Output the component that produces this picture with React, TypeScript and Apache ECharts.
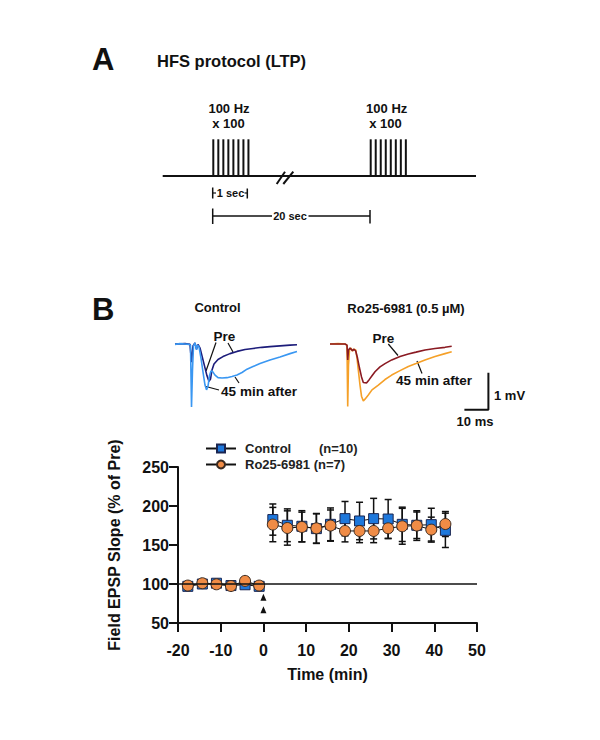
import React, { useEffect, useRef } from "react";
import * as echarts from "echarts";

// ---------- Data ----------
const preTimes = [-17.7, -14.3, -11.0, -7.6, -4.3, -1.0];
const postTimes = [2.2, 5.6, 9.0, 12.4, 15.7, 19.1, 22.5, 25.8, 29.2, 32.5, 35.9, 39.3, 42.6];

const controlPre = [97, 100, 101, 98, 99, 97];
const controlPreErr = [2, 2, 3, 2, 2, 2];
const controlPost = [182.6, 175.3, 174, 171, 176.5, 183.8, 180.8, 183.8, 183.3, 176.5, 175.3, 176.1, 168.8];
const controlPostErr = [20, 21, 20, 19, 21, 22, 24, 26, 25, 22, 17, 21, 22];

const roPre = [98, 101, 99.6, 97.4, 104, 98];
const roPreErr = [2, 2, 2, 2, 3, 2];
const roPost = [176.2, 171.8, 173.1, 171.4, 174.9, 168, 168, 168, 171.4, 174, 174.9, 169.7, 176.9];
const roPostErr = [22, 22, 19, 19, 20, 14, 15, 15, 13, 23, 19, 16, 16];

const hfsArrows = [83, 67];

const xTicks = { min: -20, max: 50, interval: 10 };
const yTicks = { min: 50, max: 250, interval: 50 };

// Field potential traces [ms, mV]
const controlPreTrace = [
  [0, 0], [4.17, 0.01], [6.25, -0.01], [6.88, -0.49], [7.5, -0.05], [8.33, 0.03], [8.96, -0.14],
  [9.58, -0.01], [10.42, -0.11], [11.25, -0.32], [12.29, -0.59], [13.33, -0.86], [14.17, -1.01],
  [14.79, -0.95], [15.42, -0.7], [16.25, -0.54], [17.92, -0.42], [20, -0.34], [22.92, -0.26],
  [25.83, -0.2], [29.17, -0.15], [32.5, -0.12], [36.25, -0.09], [39.58, -0.07], [43.75, -0.05],
  [47.92, -0.03], [50.83, -0.02],
];
const controlAfterTrace = [
  [0, -0.01], [2.08, 0.01], [4.17, 0], [5.83, -0.01], [6.46, -0.03], [6.88, -1.7], [7.29, -0.7],
  [7.71, -0.05], [8.33, 0.03], [8.96, -0.16], [9.38, -0.03], [10, -0.08], [10.83, -0.38],
  [11.67, -0.76], [12.5, -1.11], [13.13, -1.24], [13.75, -1.14], [14.38, -0.86], [15, -0.73],
  [15.63, -0.74], [16.67, -0.84], [17.92, -0.91], [19.58, -0.92], [21.67, -0.91], [23.75, -0.88],
  [25.83, -0.84], [27.92, -0.77], [30, -0.68], [32.5, -0.61], [35.42, -0.53], [39.58, -0.43],
  [43.75, -0.35], [47.92, -0.26], [50.83, -0.2],
];
const roPreTrace = [
  [0, 0], [6.25, 0], [7.08, -0.03], [7.38, -0.43], [7.71, -0.16], [8.33, -0.11], [9.38, -0.18],
  [10, -0.14], [10.71, -0.19], [11.46, -0.38], [12.29, -0.65], [13.13, -0.89], [13.88, -1.04],
  [15.29, -1.05], [16.25, -0.97], [17.5, -0.86], [18.75, -0.75], [20.83, -0.62], [22.92, -0.53],
  [25.71, -0.43], [29.17, -0.34], [32.63, -0.27], [35.83, -0.22], [39.58, -0.16], [43.75, -0.12],
  [47.92, -0.09], [50.71, -0.06],
];
const roAfterTrace = [
  [0, 0], [3.33, 0.01], [6.25, 0], [7.08, -0.03], [7.38, -1.69], [7.71, -0.57], [8.13, -0.16],
  [8.75, -0.11], [9.38, -0.19], [10, -0.14], [10.71, -0.16], [11.25, -0.38], [11.79, -0.7],
  [12.5, -1.11], [13.13, -1.41], [13.88, -1.54], [14.58, -1.49], [15.96, -1.38], [17.5, -1.24],
  [20.13, -1.11], [22.92, -0.96], [25.71, -0.84], [29.17, -0.72], [32.63, -0.61], [35.83, -0.53],
  [39.58, -0.43], [43.75, -0.34], [47.92, -0.26], [50.71, -0.21],
];
const scaleBar = [[56, -1.78], [66, -1.78], [66, -0.78]];

const pulsesPerBurst = 8;

const FONT = "'Liberation Sans', Arial, Helvetica, sans-serif";

function txt(x: number, y: number, text: string, size: number, align = "center", weight = "bold") {
  return {
    type: "text",
    x,
    y,
    silent: true,
    style: {
      text,
      fontFamily: FONT,
      fontSize: size,
      fontWeight: weight,
      fill: "#111",
      align,
      verticalAlign: "middle",
    },
  };
}
function ln(x1: number, y1: number, x2: number, y2: number, w = 1.5) {
  return {
    type: "line",
    silent: true,
    shape: { x1, y1, x2, y2 },
    style: { stroke: "#111", lineWidth: w },
  };
}

export default function App() {
  const ref = useRef<HTMLDivElement>(null);
  useEffect(() => {
    if (!ref.current) return;
    const chart = echarts.init(ref.current, undefined, { renderer: "svg" });

    const zip = (xs: number[], ys: number[]) => xs.map((x, i) => [x, ys[i]]);
    const zip3 = (xs: number[], ys: number[], es: number[]) => xs.map((x, i) => [x, ys[i], es[i]]);

    const errRender = (params: any, api: any) => {
      const x = api.value(0);
      const y = api.value(1);
      const e = api.value(2);
      const top = api.coord([x, y + e]);
      const bot = api.coord([x, y - e]);
      const hw = 3.5;
      const st = { stroke: "#111", lineWidth: 1.5 };
      return {
        type: "group",
        children: [
          { type: "line", shape: { x1: top[0], y1: top[1], x2: bot[0], y2: bot[1] }, style: st },
          { type: "line", shape: { x1: top[0] - hw, y1: top[1], x2: top[0] + hw, y2: top[1] }, style: st },
          { type: "line", shape: { x1: bot[0] - hw, y1: bot[1], x2: bot[0] + hw, y2: bot[1] }, style: st },
        ],
      };
    };

    const ctlStyle = {
      symbol: "rect",
      symbolSize: 10,
      itemStyle: { color: "#1e78dc", borderColor: "#1a2550", borderWidth: 1 },
      lineStyle: { color: "#111", width: 1 },
    };
    const roStyle = {
      symbol: "circle",
      symbolSize: 11,
      itemStyle: { color: "#f08c46", borderColor: "#3a2a20", borderWidth: 1 },
      lineStyle: { color: "#111", width: 1 },
    };

    // Panel A schematic
    const graphics: any[] = [];
    graphics.push(txt(92, 59, "A", 31, "left"));
    graphics.push(txt(157, 61, "HFS protocol (LTP)", 16.5, "left"));
    graphics.push(ln(162.7, 176, 476, 176, 2));
    [213.3, 370.7].forEach((x0) => {
      for (let i = 0; i < pulsesPerBurst; i++) {
        const x = x0 + i * 5.02;
        graphics.push(ln(x, 139.3, x, 176, 2));
      }
    });
    graphics.push(txt(229, 108, "100 Hz", 13));
    graphics.push(txt(228.5, 123.3, "x 100", 13));
    graphics.push(txt(386.7, 108, "100 Hz", 13));
    graphics.push(txt(385.5, 123.3, "x 100", 13));
    graphics.push(ln(276.7, 184, 285, 171.7, 2));
    graphics.push(ln(283.3, 184, 293.3, 171.7, 2));
    // 1 sec bracket
    graphics.push(ln(212.7, 187.5, 212.7, 198.5, 1.5));
    graphics.push(ln(212.7, 193, 216, 193, 1.2));
    graphics.push(txt(230.5, 193, "1 sec", 11));
    graphics.push(ln(244.5, 193, 247.3, 193, 1.2));
    graphics.push(ln(247.3, 188.5, 247.3, 198.5, 1.5));
    // 20 sec bracket
    graphics.push(ln(212.7, 208.5, 212.7, 224, 1.5));
    graphics.push(ln(212.7, 216, 272, 216, 1.5));
    graphics.push(txt(290, 216, "20 sec", 11));
    graphics.push(ln(308.5, 216, 370, 216, 1.5));
    graphics.push(ln(370, 210, 370, 223.5, 1.5));

    // Panel B labels
    graphics.push(txt(92, 309, "B", 31, "left"));
    graphics.push(txt(217.5, 307.5, "Control", 13));
    graphics.push(txt(406, 308, "Ro25-6981 (0.5 \u00b5M)", 13));
    graphics.push(txt(224.5, 336.5, "Pre", 13.5));
    graphics.push(ln(216, 342.5, 206, 371, 1.2));
    graphics.push(ln(228, 343, 233, 352, 1.2));
    graphics.push(txt(259, 391, "45 min after", 13.5));
    graphics.push(ln(219, 390, 206, 386.5, 1.2));
    graphics.push(ln(239, 383, 235, 377, 1.2));
    graphics.push(txt(383.3, 338, "Pre", 13.5));
    graphics.push(ln(388.3, 344, 398, 355.5, 1.2));
    graphics.push(txt(434, 380, "45 min after", 13.5));
    graphics.push(ln(422, 373.5, 417, 361, 1.2));
    graphics.push(txt(494, 395, "1 mV", 13, "left"));
    graphics.push(txt(475, 421, "10 ms", 13));

    const traceY = { min: -1.8, max: 0.2, show: false, type: "value" };

    chart.setOption({
      animation: false,
      backgroundColor: "#ffffff",
      textStyle: { fontFamily: FONT },
      graphic: graphics,
      legend: {
        data: ["Control", "Ro25-6981"],
        orient: "vertical",
        left: 200,
        top: 437,
        itemWidth: 30,
        itemHeight: 10,
        itemGap: 3,
        selectedMode: false,
        textStyle: {
          fontFamily: FONT,
          fontSize: 13,
          fontWeight: "bold",
          color: "#222",
          rich: {
            a: { width: 74, fontFamily: FONT, fontSize: 13, fontWeight: "bold", color: "#222", padding: [0, 0, 0, 4] },
            b: { fontFamily: FONT, fontSize: 13, fontWeight: "bold", color: "#222" },
            c: { fontFamily: FONT, fontSize: 13, fontWeight: "bold", color: "#222", padding: [0, 0, 0, 4] },
          },
        },
        formatter: (name: string) =>
          name === "Control" ? "{a|Control}{b|(n=10)}" : "{c|Ro25-6981 (n=7)}",
      },
      grid: [
        { left: 178, right: 123, top: 467, bottom: 117 },
        { left: 175, top: 336.6, width: 124.8, height: 74 },
        { left: 330, top: 336.6, width: 159.6, height: 74 },
      ],
      xAxis: [
        {
          type: "value",
          gridIndex: 0,
          ...xTicks,
          axisLine: { onZero: false, lineStyle: { color: "#111", width: 2 } },
          axisTick: { length: 9, lineStyle: { color: "#111", width: 2 } },
          axisLabel: { fontFamily: FONT, fontSize: 16, fontWeight: "bold", color: "#111", margin: 19 },
          splitLine: { show: false },
          name: "Time (min)",
          nameLocation: "middle",
          nameGap: 43,
          nameTextStyle: { fontFamily: FONT, fontSize: 16, fontWeight: "bold", color: "#111" },
        },
        { type: "value", gridIndex: 1, min: 0, max: 52, show: false },
        { type: "value", gridIndex: 2, min: 0, max: 66.5, show: false },
      ],
      yAxis: [
        {
          type: "value",
          gridIndex: 0,
          ...yTicks,
          axisLine: { show: true, onZero: false, lineStyle: { color: "#111", width: 2 } },
          axisTick: { show: true, length: 9, lineStyle: { color: "#111", width: 2 } },
          axisLabel: { fontFamily: FONT, fontSize: 16, fontWeight: "bold", color: "#111", margin: 9 },
          splitLine: { show: false },
          name: "Field EPSP Slope (% of Pre)",
          nameLocation: "middle",
          nameGap: 56,
          nameTextStyle: { fontFamily: FONT, fontSize: 16, fontWeight: "bold", color: "#111" },
        },
        { ...traceY, gridIndex: 1 },
        { ...traceY, gridIndex: 2 },
      ],
      series: [
        { type: "custom", name: "ctlErr", renderItem: errRender, data: zip3(preTimes, controlPre, controlPreErr), encode: { x: 0, y: 1 }, silent: true },
        { type: "custom", name: "ctlErr", renderItem: errRender, data: zip3(postTimes, controlPost, controlPostErr), encode: { x: 0, y: 1 }, silent: true },
        {
          type: "line",
          name: "Control",
          data: zip(preTimes, controlPre),
          ...ctlStyle,
          markLine: {
            silent: true,
            symbol: "none",
            label: { show: false },
            lineStyle: { color: "#111", width: 1.5, type: "solid" },
            data: [{ yAxis: 100 }],
          },
        },
        { type: "line", name: "Control", data: zip(postTimes, controlPost), ...ctlStyle },
        { type: "custom", name: "roErr", renderItem: errRender, data: zip3(preTimes, roPre, roPreErr), encode: { x: 0, y: 1 }, silent: true },
        { type: "custom", name: "roErr", renderItem: errRender, data: zip3(postTimes, roPost, roPostErr), encode: { x: 0, y: 1 }, silent: true },
        { type: "line", name: "Ro25-6981", data: zip(preTimes, roPre), ...roStyle },
        { type: "line", name: "Ro25-6981", data: zip(postTimes, roPost), ...roStyle },
        {
          type: "scatter",
          name: "HFS",
          data: hfsArrows.map((v) => [0, v]),
          symbol: "triangle",
          symbolSize: [6, 7],
          itemStyle: { color: "#111", opacity: 1 },
        },
        // traces
        { type: "line", name: "ctlPre", xAxisIndex: 1, yAxisIndex: 1, data: controlPreTrace, symbol: "none", lineStyle: { color: "#1c1c7a", width: 1.6 } },
        { type: "line", name: "ctlAfter", xAxisIndex: 1, yAxisIndex: 1, data: controlAfterTrace, symbol: "none", lineStyle: { color: "#3a97f2", width: 1.6 } },
        { type: "line", name: "roAfter", xAxisIndex: 2, yAxisIndex: 2, data: roAfterTrace, symbol: "none", lineStyle: { color: "#f5a028", width: 1.6 } },
        { type: "line", name: "roPre", xAxisIndex: 2, yAxisIndex: 2, data: roPreTrace, symbol: "none", lineStyle: { color: "#8a1a22", width: 1.6 } },
        { type: "line", name: "scale", xAxisIndex: 2, yAxisIndex: 2, data: scaleBar, symbol: "none", clip: false, lineStyle: { color: "#111", width: 2 } },
      ],
    });
    return () => chart.dispose();
  }, []);
  return (
    <div
      ref={ref}
      style={{ position: "fixed", left: 0, top: 0, width: 600, height: 740, background: "#fff" }}
    />
  );
}
